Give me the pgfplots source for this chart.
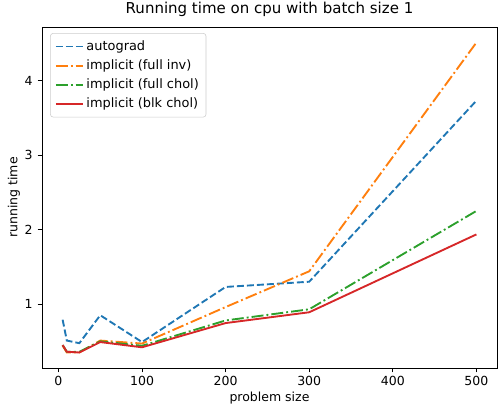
\documentclass[border=0pt]{standalone}
\usepackage{fontspec}
\setmainfont{DejaVu Sans}
\usepackage{pgfplots}
\pgfplotsset{compat=1.18}
\definecolor{tabblue}{HTML}{1F77B4}
\definecolor{taborange}{HTML}{FF7F0E}
\definecolor{tabgreen}{HTML}{2CA02C}
\definecolor{tabred}{HTML}{D62728}
\begin{document}
\begin{tikzpicture}
\begin{axis}[
  scale only axis,
  width=327.6pt, height=245.5pt,
  xmin=-19.75, xmax=524.75,
  ymin=0.142, ymax=4.72,
  xtick={0,100,200,300,400,500},
  ytick={1,2,3,4},
  tick align=outside,
  xtick pos=bottom, ytick pos=left,
  major tick length=3.2pt,
  tick style={black, line width=0.55pt},
  axis line style={line width=0.55pt},
  /pgf/number format/assume math mode=true,
  ticklabel style={font=\fontsize{9}{11}\selectfont},
  xticklabel style={yshift=1pt},
  label style={font=\fontsize{9}{11}\selectfont},
  xlabel style={yshift=2pt},
  ylabel style={yshift=-3.5pt},
  title style={font=\fontsize{10.8}{13}\selectfont, yshift=-2pt},
  title={Running time on cpu with batch size 1},
  xlabel={problem size},
  ylabel={running time},
  legend style={at={(0.018,0.982)}, anchor=north west, draw=black!20, rounded corners=2pt, font=\fontsize{9.3}{11}\selectfont, row sep=1.2pt, inner sep=3.2pt},
  legend cell align=left,
  legend image code/.code={\draw[#1] (0pt,0pt) -- (19.4pt,0pt);},
  every axis plot/.append style={line width=1.35pt},
]
\addplot[tabblue, dash pattern=on 5pt off 2.2pt] coordinates {
(5,0.79) (10,0.51) (25,0.475) (50,0.85) (100,0.49) (200,1.23) (300,1.30) (500,3.73)};
\addlegendentry{autograd}
\addplot[taborange, dash pattern=on 8.6pt off 2.2pt on 1.35pt off 2.2pt] coordinates {
(5,0.44) (10,0.35) (25,0.35) (50,0.51) (100,0.47) (200,0.96) (300,1.44) (500,4.51)};
\addlegendentry{implicit (full inv)}
\addplot[tabgreen, dash pattern=on 8.6pt off 2.2pt on 1.35pt off 2.2pt] coordinates {
(5,0.45) (10,0.36) (25,0.36) (50,0.50) (100,0.44) (200,0.78) (300,0.93) (500,2.25)};
\addlegendentry{implicit (full chol)}
\addplot[tabred] coordinates {
(5,0.45) (10,0.36) (25,0.35) (50,0.49) (100,0.42) (200,0.745) (300,0.89) (500,1.935)};
\addlegendentry{implicit (blk chol)}
\end{axis}
\pgfresetboundingbox
\path[use as bounding box] (current axis.south west) ++(-30.2pt,-28.1pt) rectangle ([shift={(1.4pt,19.4pt)}]current axis.north east);
\end{tikzpicture}
\end{document}
